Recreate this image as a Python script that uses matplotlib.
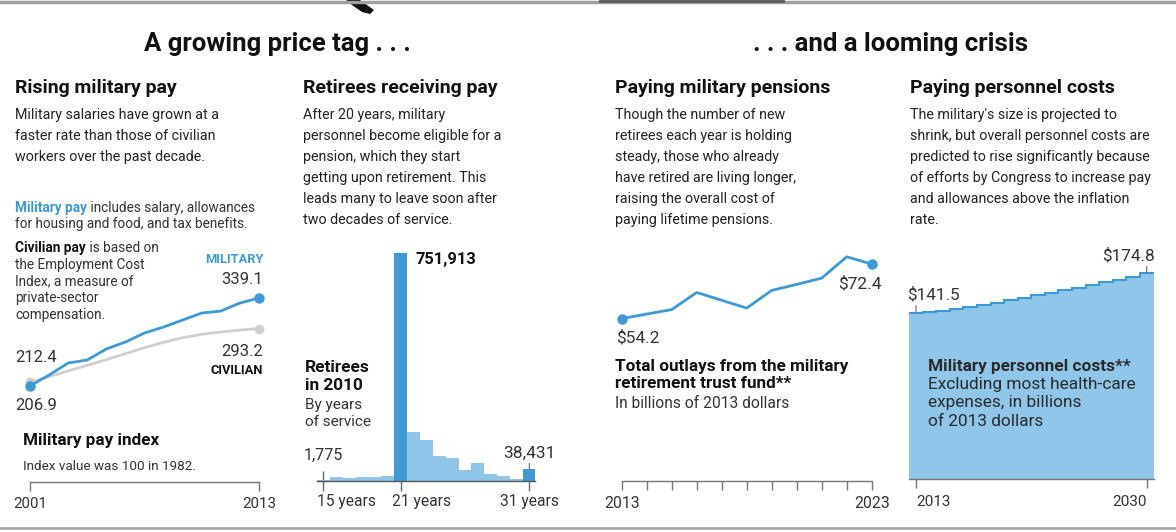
import matplotlib
matplotlib.use("Agg")
import matplotlib.pyplot as plt
from matplotlib.patches import Polygon
import numpy as np

plt.rcParams['font.family'] = ['Roboto', 'DejaVu Sans']

# ---------------- data ----------------
pay_years = list(range(2001, 2014))
military_pay = [206.9, 223.4, 241.4, 246.0, 262.5, 273.0, 286.5, 295.5, 306.0, 316.5, 319.5, 331.5, 339.1]
civilian_pay = [212.4, 221.0, 229.5, 238.0, 246.5, 255.5, 264.5, 272.5, 279.5, 284.5, 288.0, 291.0, 293.2]

service_years = list(range(15, 32))
retirees_2010 = [1775, 13000, 8800, 11000, 11000, 13300, 751913, 161000, 132700, 80000,
                 76000, 35400, 58600, 22000, 14400, 4400, 38431]
highlight_years = [21, 31]
service_tick_labels = {15: '15 years', 21: '21 years', 31: '31 years'}

outlay_years = list(range(2013, 2024))
outlays = [54.2, 55.7, 57.2, 62.9, 60.3, 57.7, 63.6, 65.6, 67.7, 74.8, 72.4]

cost_years = list(range(2013, 2031))
personnel_costs = [141.5, 141.8, 143.0, 144.5, 146.0, 148.0, 149.8, 151.8, 153.8, 156.0,
                   158.0, 160.3, 162.5, 164.8, 167.0, 169.5, 171.8, 174.8]

# ---------------- style ----------------
BLUE = '#3d9ad6'
LIGHT = '#8fc6ea'
GRAY_LINE = '#cfcfcf'
TXT = '#222222'
AXC = '#777777'
BODY = 10.3

W, H = 1176, 532
fig = plt.figure(figsize=(W / 100, H / 100), dpi=100)
fig.patch.set_facecolor('white')
renderer = fig.canvas.get_renderer()


def ax_px(x0, y0, x1, y1, labelsize=11, pad=5):
    a = fig.add_axes([x0 / W, 1 - y1 / H, (x1 - x0) / W, (y1 - y0) / H])
    a.set_facecolor('none')
    for s in ['top', 'right', 'left']:
        a.spines[s].set_visible(False)
    a.spines['bottom'].set_color(AXC)
    a.spines['bottom'].set_linewidth(1.0)
    a.tick_params(axis='y', left=False, labelleft=False)
    a.tick_params(axis='x', colors=AXC, labelcolor='#333333', labelsize=labelsize,
                  direction='out', length=6.5, width=1.0, pad=pad)
    return a


def t(x, y, s, size=BODY, weight='normal', color=TXT, ha='left', va='center', **kw):
    return fig.text(x / W, 1 - y / H, s, fontsize=size, fontweight=weight,
                    color=color, ha=ha, va=va, **kw)


def rich(x, y, parts, size):
    cur = x
    for s, weight, color in parts:
        tx = t(cur, y, s, size=size, weight=weight, color=color)
        bb = tx.get_window_extent(renderer)
        cur = bb.x1


# ---------------- frame lines ----------------
def fline(x0, x1, y, color, lw):
    fig.add_artist(plt.Line2D([x0 / W, x1 / W], [1 - y / H, 1 - y / H], color=color, lw=lw,
                              transform=fig.transFigure))


fline(0, W, 1.5, '#a0a0a0', 2.5)
fline(600, 783, 1.0, '#5a5a5a', 2.0)
fline(0, W, 528, '#a8a8a8', 2)
blob = [(346, 0), (360, 0), (374, 10), (370, 14), (362, 12), (352, 5)]
fig.add_artist(Polygon([(x / W, 1 - y / H) for x, y in blob], closed=True,
                       facecolor='#111111', edgecolor='none', transform=fig.transFigure))

# ---------------- titles ----------------
t(277, 44, 'A growing price tag . . .', size=18.5, weight='bold', color='#111111', ha='center')
t(891, 44, '. . . and a looming crisis', size=18.5, weight='bold', color='#111111', ha='center')

heads = [(15, 'Rising military pay'), (303, 'Retirees receiving pay'),
         (615, 'Paying military pensions'), (910, 'Paying personnel costs')]
for x, s in heads:
    t(x, 88, s, size=14, weight='bold', color='#111111')

bodies = [
    (15, ['Military salaries have grown at a', 'faster rate than those of civilian',
          'workers over the past decade.']),
    (303, ['After 20 years, military', 'personnel become eligible for a',
           'pension, which they start', 'getting upon retirement. This',
           'leads many to leave soon after', 'two decades of service.']),
    (615, ['Though the number of new', 'retirees each year is holding',
           'steady, those who already', 'have retired are living longer,',
           'raising the overall cost of', 'paying lifetime pensions.']),
    (910, ["The military's size is projected to", 'shrink, but overall personnel costs are',
           'predicted to rise significantly because', 'of efforts by Congress to increase pay',
           'and allowances above the inflation', 'rate.']),
]
for x, lines in bodies:
    for i, s in enumerate(lines):
        t(x, 115 + 21 * i, s, size=BODY)

# ---------------- panel 1: pay index ----------------
ax1 = ax_px(30, 250, 259, 482, labelsize=10.8, pad=4)
ax1.set_xlim(2001, 2013)
ax1.set_ylim(62.7, 411.2)
ax1.plot(pay_years, civilian_pay, color=GRAY_LINE, lw=2, solid_capstyle='round', clip_on=False)
ax1.plot([pay_years[0], pay_years[-1]], [civilian_pay[0], civilian_pay[-1]], 'o',
         color=GRAY_LINE, ms=6, clip_on=False)
ax1.plot(pay_years, military_pay, color=BLUE, lw=2, solid_capstyle='round', clip_on=False)
ax1.plot([pay_years[0], pay_years[-1]], [military_pay[0], military_pay[-1]], 'o',
         color=BLUE, ms=6.5, clip_on=False)
ax1.set_xticks([2001, 2013])
ax1.set_xticklabels(['2001', '2013'])

SMALL = 9.8
rich(15, 208, [('Military pay', 'bold', BLUE),
               (' includes salary, allowances', 'normal', '#333333')], SMALL)
t(15, 224, 'for housing and food, and tax benefits.', size=SMALL, color='#333333')
rich(15, 248, [('Civilian pay', 'bold', '#111111'),
               (' is based on', 'normal', '#333333')], SMALL)
for i, s in enumerate(['the Employment Cost', 'Index, a measure of', 'private-sector',
                       'compensation.']):
    t(15, 265 + 16.7 * i, s, size=SMALL, color='#333333')
t(263, 259, 'MILITARY', size=9.3, weight='bold', color=BLUE, ha='right')
t(263, 279, f'{military_pay[-1]:.1f}', size=12, color='#333333', ha='right')
t(263, 351, f'{civilian_pay[-1]:.1f}', size=12, color='#333333', ha='right')
t(263, 370, 'CIVILIAN', size=9.3, weight='bold', color='#111111', ha='right')
t(15, 358, f'{civilian_pay[0]:.1f}', size=12, color='#333333')
t(15, 406, f'{military_pay[0]:.1f}', size=12, color='#333333')
t(23, 441, 'Military pay index', size=12.3, weight='bold', color='#111111')
t(23, 467, 'Index value was 100 in 1982.', size=9.7, color='#333333')

# ---------------- panel 2: retirees histogram ----------------
ax2 = ax_px(316.7, 240, 535, 480.5)
ax2.set_xlim(14.48, 31.44)
ax2.set_ylim(0, 751913 * 240.5 / 227.5)
colors2 = [BLUE if y in highlight_years else LIGHT for y in service_years]
ax2.bar(service_years, retirees_2010, width=1.0, color=colors2, edgecolor='none', zorder=2)
ax2.spines['bottom'].set_color('#555555')
ax2.spines['bottom'].set_zorder(3)
ax2.set_xticks(list(service_tick_labels))
ax2.set_xticklabels([''] * len(service_tick_labels))
ax2.tick_params(axis='x', direction='inout', length=14, colors='#666666')
for (yr, lab), dx, ha in zip(service_tick_labels.items(), [-4.5, -6, 0],
                             ['left', 'left', 'center']):
    ax2.annotate(lab, xy=(yr, 0), xytext=(dx, -15), textcoords='offset points',
                 fontsize=11.2, color='#333333', ha=ha, va='center')
ax2.annotate(f'{retirees_2010[6]:,}', xy=(21, retirees_2010[6]), xytext=(11, -5),
             textcoords='offset points', fontsize=11.9, fontweight='bold', color='#111111',
             ha='left', va='center')
ax2.annotate(f'{retirees_2010[0]:,}', xy=(15, 0), xytext=(0, 18),
             textcoords='offset points', fontsize=11.5, color='#333333', ha='center',
             va='center')
ax2.annotate(f'{retirees_2010[-1]:,}', xy=(31, retirees_2010[-1]), xytext=(0, 11),
             textcoords='offset points', fontsize=12.5, color='#333333', ha='center',
             va='center')
ax2.annotate('', xy=(31, retirees_2010[-1]), xytext=(0, 4), textcoords='offset points',
             arrowprops=dict(arrowstyle='-', color='#666666', lw=0.8, shrinkA=0, shrinkB=0))
t(305, 367, 'Retirees', size=12.4, weight='bold', color='#111111')
t(305, 385, 'in 2010', size=12.4, weight='bold', color='#111111')
t(305, 405, 'By years', size=11, color='#333333')
t(305, 422, 'of service', size=11, color='#333333')

# ---------------- panel 3: outlays ----------------
ax3 = ax_px(621.7, 240, 871.7, 481, labelsize=11.3, pad=4)
ax3.set_xlim(2013, 2023)
ax3.set_ylim(0, 241 / 2.997)
ax3.plot(outlay_years, outlays, color=BLUE, lw=2, clip_on=False)
ax3.plot([outlay_years[0], outlay_years[-1]], [outlays[0], outlays[-1]], 'o', color=BLUE,
         ms=6.5, clip_on=False)
ax3.set_xticks(outlay_years)
ax3.set_xticklabels(['2013'] + [''] * (len(outlay_years) - 2) + ['2023'])
ax3.annotate(f'${outlays[0]:.1f}', xy=(2013, outlays[0]), xytext=(-4, -14),
             textcoords='offset points', fontsize=12.5, color='#333333', ha='left', va='center')
ax3.annotate(f'${outlays[-1]:.1f}', xy=(2023, outlays[-1]), xytext=(7, -14),
             textcoords='offset points', fontsize=12.5, color='#333333', ha='right',
             va='center')
t(615, 366, 'Total outlays from the military', size=12.3, weight='bold', color='#111111')
t(615, 384, 'retirement trust fund**', size=12.3, weight='bold', color='#111111')
t(615, 403, 'In billions of 2013 dollars', size=11.2, color='#333333')

# ---------------- panel 4: personnel costs ----------------
ax4 = ax_px(909.2, 240, 1153.5, 479.3, labelsize=11, pad=5)
ax4.set_xlim(2012.5, 2030.5)
ax4.set_ylim(0, 239.3 / 1.1785)
edges = np.append(np.array(cost_years) - 0.5, cost_years[-1] + 0.5)
ax4.stairs(personnel_costs, edges, fill=True, color=LIGHT, zorder=1)
ax4.stairs(personnel_costs, edges, baseline=None, color=BLUE, lw=1.5, zorder=2)
ax4.set_xticks([2013, 2030])
ax4.set_xticklabels(['2013', '2030'])
for lbl, ha in zip(ax4.get_xticklabels(), ['left', 'right']):
    lbl.set_horizontalalignment(ha)
for yr, val, dx, ha in [(2013, personnel_costs[0], -6.5, 'left'),
                        (2030, personnel_costs[-1], 6, 'right')]:
    ax4.annotate('', xy=(yr, val), xytext=(0, 5), textcoords='offset points',
                 arrowprops=dict(arrowstyle='-', color='#666666', lw=0.8, shrinkA=0, shrinkB=0))
    ax4.annotate(f'${val:.1f}', xy=(yr, val), xytext=(dx, 12.5), textcoords='offset points',
                 fontsize=12.3, color='#333333', ha=ha, va='center')
t(928, 367, 'Military personnel costs**', size=12.4, weight='bold', color='#2a2a2a')
t(928, 384, 'Excluding most health-care', size=12.4, color='#2a2a2a')
t(928, 402, 'expenses, in billions', size=12.4, color='#2a2a2a')
t(928, 421, 'of 2013 dollars', size=12.4, color='#2a2a2a')

fig.savefig('out.png', dpi=100, facecolor='white')
